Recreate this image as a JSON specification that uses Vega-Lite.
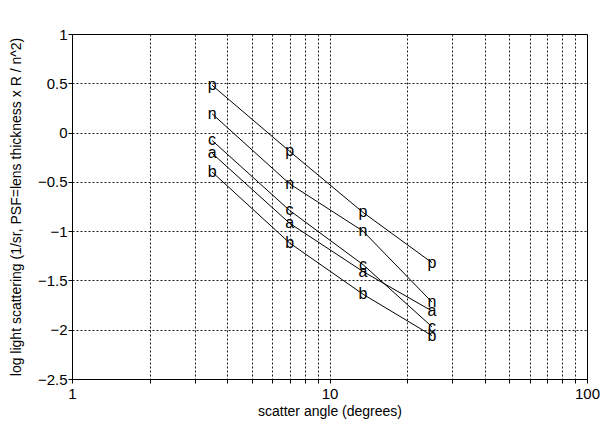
{
  "$schema": "https://vega.github.io/schema/vega-lite/v6.json",
  "width": 515,
  "height": 345,
  "autosize": {"type": "none"},
  "padding": {"left": 72, "top": 34, "right": 13, "bottom": 49},
  "background": "white",
  "config": {
    "view": {"stroke": "black", "strokeWidth": 1},
    "font": "Liberation Sans",
    "axis": {
      "domainColor": "black",
      "tickColor": "black",
      "gridColor": "black",
      "gridDash": [2, 2],
      "gridWidth": 1,
      "gridOpacity": 0.9,
      "labelColor": "black",
      "titleColor": "black",
      "labelFontSize": 15,
      "titleFontSize": 14,
      "titleFontWeight": "normal",
      "labelFont": "Liberation Sans",
      "titleFont": "Liberation Sans"
    }
  },
  "data": {
    "values": [
      {"series": "p", "angle": 3.5, "value": 0.48},
      {"series": "p", "angle": 7, "value": -0.19},
      {"series": "p", "angle": 13.5, "value": -0.81},
      {"series": "p", "angle": 25, "value": -1.32},
      {"series": "n", "angle": 3.5, "value": 0.19},
      {"series": "n", "angle": 7, "value": -0.52},
      {"series": "n", "angle": 13.5, "value": -1.0},
      {"series": "n", "angle": 25, "value": -1.72},
      {"series": "c", "angle": 3.5, "value": -0.08},
      {"series": "c", "angle": 7, "value": -0.79},
      {"series": "c", "angle": 13.5, "value": -1.34},
      {"series": "c", "angle": 25, "value": -1.97},
      {"series": "a", "angle": 3.5, "value": -0.21},
      {"series": "a", "angle": 7, "value": -0.92},
      {"series": "a", "angle": 13.5, "value": -1.41},
      {"series": "a", "angle": 25, "value": -1.81},
      {"series": "b", "angle": 3.5, "value": -0.4},
      {"series": "b", "angle": 7, "value": -1.12},
      {"series": "b", "angle": 13.5, "value": -1.64},
      {"series": "b", "angle": 25, "value": -2.06}
    ]
  },
  "encoding": {
    "x": {
      "field": "angle",
      "type": "quantitative",
      "scale": {"type": "log", "domain": [1, 100], "nice": false},
      "axis": {
        "title": "scatter angle (degrees)",
        "values": [1, 2, 3, 4, 5, 6, 7, 8, 9, 10, 20, 30, 40, 50, 60, 70, 80, 90, 100],
        "labelExpr": "datum.value == 1 || datum.value == 10 || datum.value == 100 ? format(datum.value, 'd') : ''",
        "tickSize": 4,
        "labelPadding": 3,
        "titlePadding": 3,
        "labelFlush": false
      }
    },
    "y": {
      "field": "value",
      "type": "quantitative",
      "scale": {"domain": [-2.5, 1], "nice": false, "zero": false},
      "axis": {
        "title": "log light scattering (1/sr, PSF=lens thickness x R / n^2)",
        "values": [-2.5, -2, -1.5, -1, -0.5, 0, 0.5, 1],
        "format": "~g",
        "tickSize": 4,
        "labelPadding": 1,
        "titlePadding": 14
      }
    }
  },
  "layer": [
    {
      "mark": {"type": "line", "color": "black", "strokeWidth": 1},
      "encoding": {"detail": {"field": "series", "type": "nominal"}}
    },
    {
      "mark": {"type": "text", "fontSize": 16, "color": "black", "baseline": "middle", "align": "center", "font": "Liberation Sans"},
      "encoding": {"text": {"field": "series", "type": "nominal"}}
    }
  ]
}
